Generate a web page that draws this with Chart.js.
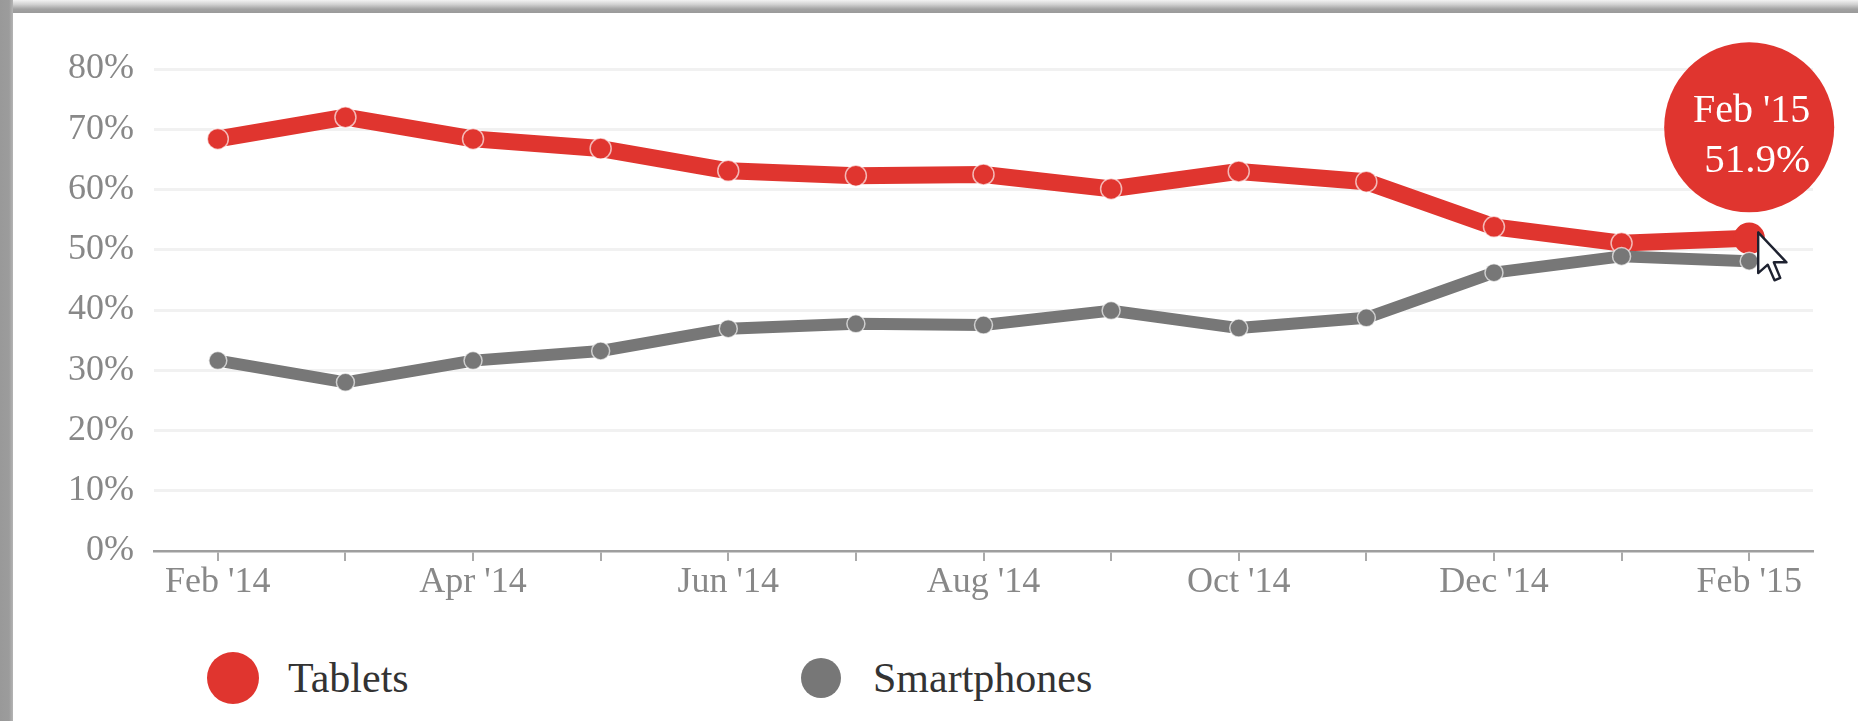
<!DOCTYPE html>
<html>
<head>
<meta charset="utf-8">
<script src="https://cdn.jsdelivr.net/npm/chart.js@4/dist/chart.umd.min.js"></script>
<style>
    html, body { margin: 0; padding: 0; background: #fff; }
    body { width: 1858px; height: 721px; position: relative; overflow: hidden; font-family: 'Liberation Serif', 'Times New Roman', serif; }
    #wrap { position: absolute; left: 0; top: 0; width: 1858px; height: 640px; }
    .frame-left { position: absolute; left: 0; top: 0; width: 13px; height: 721px; background: linear-gradient(to right, #999 0%, #9c9c9c 70%, #b5b5b5 100%); }
    .frame-top { position: absolute; left: 0; top: 0; width: 1858px; height: 13px; background: linear-gradient(to bottom, #f2f2f2 0%, #d0d0d0 35%, #a2a2a2 70%, #9a9a9a 100%); }
    .legend-item { position: absolute; top: 650px; height: 56px; display: flex; align-items: center; font-family: 'Liberation Serif', serif; font-size: 42px; color: #333; }
    .dot { border-radius: 50%; position: absolute; }
</style>
</head>
<body>
<div id="wrap"><canvas id="shareChart"></canvas></div>
<div class="frame-top"></div>
<div class="frame-left"></div>

<div class="dot" style="left:207px; top:652px; width:52px; height:52px; background:#e0352f;"></div>
<div class="legend-item" style="left:288px;">Tablets</div>
<div class="dot" style="left:801px; top:658px; width:40px; height:40px; background:#777;"></div>
<div class="legend-item" style="left:873px;">Smartphones</div>

<script>
const months = ["Feb '14", "Mar '14", "Apr '14", "May '14", "Jun '14", "Jul '14", "Aug '14",
    "Sep '14", "Oct '14", "Nov '14", "Dec '14", "Jan '15", "Feb '15"];
const tablets = [68.4, 72.0, 68.4, 66.8, 63.1, 62.3, 62.5, 60.1, 63.0, 61.3, 53.8, 51.1, 51.9];
const smartphones = [31.6, 28.0, 31.6, 33.2, 36.9, 37.7, 37.5, 39.9, 37.0, 38.7, 46.2, 48.9, 48.1];
const yTicks = [0, 10, 20, 30, 40, 50, 60, 70, 80];

const RED = '#e0352f';
const GREY = '#777777';
const hoverIndex = months.length - 1;

// red bubble + mouse pointer over the hovered point
const bubblePlugin = {
    id: 'bubble',
    afterDraw(chart) {
        const pt = chart.getDatasetMeta(0).data[hoverIndex];
        const ctx = chart.ctx;
        const cx = pt.x, cy = pt.y - 111;
        ctx.save();
        ctx.fillStyle = RED;
        ctx.beginPath();
        ctx.arc(cx, cy, 85, 0, Math.PI * 2);
        ctx.fill();
        ctx.fillStyle = '#fff';
        ctx.textAlign = 'right';
        ctx.textBaseline = 'middle';
        ctx.font = "40px 'Liberation Serif', serif";
        ctx.fillText(months[hoverIndex], cx + 61, cy - 16);
        ctx.font = "41px 'Liberation Serif', serif";
        ctx.fillText(tablets[hoverIndex].toFixed(1) + '%', cx + 61, cy + 34);

        // cursor
        const s = 2.4, tx = pt.x + 9, ty = pt.y - 6;
        const shape = [[0, 0], [0, 17], [4, 13.5], [6.8, 20], [9.2, 19], [6.5, 12.5], [11.8, 12.5]];
        ctx.beginPath();
        shape.forEach(([px, py], i) => {
            const X = tx + px * s, Y = ty + py * s;
            i ? ctx.lineTo(X, Y) : ctx.moveTo(X, Y);
        });
        ctx.closePath();
        ctx.fillStyle = '#fff';
        ctx.fill();
        ctx.lineWidth = 2.4;
        ctx.strokeStyle = '#1e2230';
        ctx.lineJoin = 'round';
        ctx.stroke();
        ctx.restore();
    }
};

new Chart(document.getElementById('shareChart'), {
    type: 'line',
    data: {
        labels: months,
        datasets: [{
            label: 'Tablets',
            data: tablets,
            order: 1,
            borderColor: RED,
            backgroundColor: RED,
            borderWidth: 17,
            borderJoinStyle: 'round',
            borderCapStyle: 'round',
            tension: 0,
            pointBackgroundColor: RED,
            pointBorderColor: months.map((m, i) => i === hoverIndex ? RED : 'rgba(255,255,255,0.65)'),
            pointBorderWidth: 1.5,
            pointRadius: months.map((m, i) => i === hoverIndex ? 15 : 10.5),
        }, {
            label: 'Smartphones',
            data: smartphones,
            order: 0,
            borderColor: GREY,
            backgroundColor: GREY,
            borderWidth: 12,
            borderJoinStyle: 'round',
            borderCapStyle: 'round',
            tension: 0,
            pointBackgroundColor: GREY,
            pointBorderColor: 'rgba(255,255,255,0.65)',
            pointBorderWidth: 1.5,
            pointRadius: 9,
        }]
    },
    options: {
        responsive: true,
        maintainAspectRatio: false,
        animation: false,
        events: [],
        layout: { padding: { top: 69, right: 45, left: 0, bottom: 0 } },
        scales: {
            x: {
                offset: true,
                afterFit: s => { s.height = 89; },
                grid: { offset: false, drawOnChartArea: false, tickLength: 10, color: '#aaa', lineWidth: 2 },
                border: { color: '#9e9e9e', width: 2.5 },
                ticks: {
                    autoSkip: false, maxRotation: 0, padding: 0,
                    color: '#888', font: { family: "'Liberation Serif', serif", size: 36 },
                    callback: (v, i) => i % 2 === 0 ? months[i] : ''
                }
            },
            y: {
                min: yTicks[0],
                max: yTicks[yTicks.length - 1],
                afterFit: s => { s.width = 154; },
                afterBuildTicks: s => { s.ticks = yTicks.map(v => ({ value: v })); },
                grid: {
                    drawTicks: false, lineWidth: 3,
                    color: c => c.tick && c.tick.value === 0 ? 'rgba(0,0,0,0)' : '#f1f1f1'
                },
                border: { display: false },
                ticks: {
                    padding: 20, color: '#888',
                    font: { family: "'Liberation Serif', serif", size: 36 },
                    callback: v => v + '%'
                }
            }
        },
        plugins: {
            legend: { display: false },
            tooltip: { enabled: false }
        }
    },
    plugins: [bubblePlugin]
});
</script>
</body>
</html>
